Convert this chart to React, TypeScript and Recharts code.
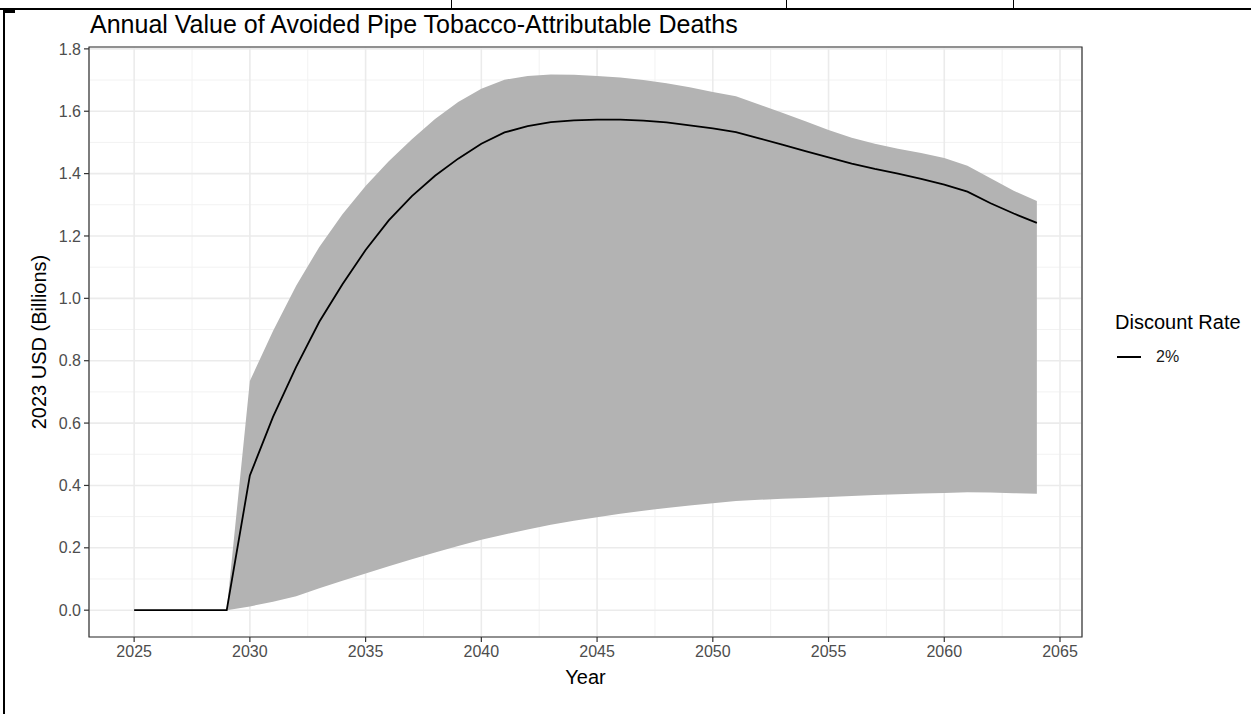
import React from 'react';
import { ComposedChart, Area, Line, XAxis, YAxis, CartesianGrid, ReferenceArea, Legend } from 'recharts';

const years = [
  2025, 2026, 2027, 2028, 2029, 2030, 2031, 2032, 2033, 2034,
  2035, 2036, 2037, 2038, 2039, 2040, 2041, 2042, 2043, 2044,
  2045, 2046, 2047, 2048, 2049, 2050, 2051, 2052, 2053, 2054,
  2055, 2056, 2057, 2058, 2059, 2060, 2061, 2062, 2063, 2064,
];

// central estimate, 2% discount rate (billions)
const central = [
  0, 0, 0, 0, 0, 0.432, 0.62, 0.78, 0.925, 1.045,
  1.155, 1.25, 1.328, 1.393, 1.448, 1.496, 1.532, 1.552, 1.565, 1.571,
  1.573, 1.573, 1.57, 1.564, 1.555, 1.545, 1.533, 1.513, 1.493, 1.472,
  1.452, 1.432, 1.415, 1.4, 1.383, 1.365, 1.342, 1.305, 1.272, 1.242,
];

// uncertainty band
const lower = [
  null, null, null, null, 0, 0.012, 0.027, 0.045, 0.07, 0.094,
  0.118, 0.141, 0.163, 0.185, 0.206, 0.226, 0.243, 0.259, 0.274, 0.287,
  0.298, 0.309, 0.319, 0.328, 0.336, 0.343, 0.35, 0.354, 0.357, 0.36,
  0.363, 0.366, 0.369, 0.372, 0.374, 0.376, 0.378, 0.377, 0.375, 0.373,
];
const upper = [
  null, null, null, null, 0, 0.735, 0.895, 1.04, 1.165, 1.27,
  1.36, 1.44, 1.51, 1.575, 1.63, 1.672, 1.701, 1.713, 1.718, 1.717,
  1.713, 1.708, 1.7, 1.69, 1.677, 1.662, 1.648, 1.622, 1.595, 1.568,
  1.54, 1.515, 1.496, 1.48, 1.466, 1.45, 1.425, 1.385, 1.345, 1.312,
];

const xTicks = [2025, 2030, 2035, 2040, 2045, 2050, 2055, 2060, 2065];
const xMinorTicks = [2027.5, 2032.5, 2037.5, 2042.5, 2047.5, 2052.5, 2057.5, 2062.5];
const yTicks = [0, 0.2, 0.4, 0.6, 0.8, 1.0, 1.2, 1.4, 1.6, 1.8];
const yMinorTicks = [0.1, 0.3, 0.5, 0.7, 0.9, 1.1, 1.3, 1.5, 1.7];

// ggplot style 5% expansion
const xDomain = [2023.05, 2065.95];
const yDomain = [-0.086, 1.806];

const data = years.map((year, i) => ({
  year,
  central: central[i],
  band: lower[i] == null || upper[i] == null ? null : [lower[i], upper[i]],
}));

const FONT = '"Liberation Sans", Arial, sans-serif';
const tickStyle = { fill: '#4D4D4D', fontSize: 16, fontFamily: FONT };

const renderLegend = (props: any) => {
  const items = (props.payload || []).filter((p: any) => p.dataKey === 'central');
  return (
    <div style={{ fontFamily: FONT, color: '#000', textAlign: 'left' }}>
      <div style={{ fontSize: 20, lineHeight: '24px' }}>Discount Rate</div>
      {items.map((it: any) => (
        <div key={it.value} style={{ display: 'flex', alignItems: 'center', marginTop: 11, height: 24 }}>
          <svg width={24} height={6} style={{ marginLeft: 2 }}>
            <line x1={0} x2={24} y1={3} y2={3} stroke={it.color} strokeWidth={2} />
          </svg>
          <span style={{ marginLeft: 15, fontSize: 16, color: '#1A1A1A' }}>{it.value}</span>
        </div>
      ))}
    </div>
  );
};

const App: React.FC = () => {
  return (
    <div style={{ position: 'absolute', left: 0, top: 0, width: 1251, height: 714, background: '#fff', fontFamily: FONT }}>
      {/* surrounding table borders from the source document */}
      <div style={{ position: 'absolute', left: 0, top: 8, width: 1251, height: 2, background: '#000' }} />
      <div style={{ position: 'absolute', left: 3, top: 8, width: 2, height: 706, background: '#000' }} />
      <div style={{ position: 'absolute', left: 5, top: 10, width: 10, height: 3, background: '#000' }} />
      <div style={{ position: 'absolute', left: 451, top: 0, width: 1, height: 9, background: '#000' }} />
      <div style={{ position: 'absolute', left: 786, top: 0, width: 1, height: 9, background: '#000' }} />
      <div style={{ position: 'absolute', left: 1013, top: 0, width: 1, height: 9, background: '#000' }} />

      <div style={{ position: 'absolute', left: 90, top: 12, fontSize: 25, lineHeight: 1, color: '#000', whiteSpace: 'nowrap' }}>
        Annual Value of Avoided Pipe Tobacco-Attributable Deaths
      </div>

      <ComposedChart
        width={1251}
        height={714}
        data={data}
        margin={{ top: 47, right: 169, bottom: 0, left: 0 }}
        style={{ position: 'absolute', left: 0, top: 0 }}
      >
        <XAxis xAxisId="minor" dataKey="year" type="number" domain={xDomain} ticks={xMinorTicks} allowDataOverflow hide />
        <YAxis yAxisId="minor" type="number" domain={yDomain} ticks={yMinorTicks} allowDataOverflow hide />
        <CartesianGrid xAxisId="minor" yAxisId="minor" stroke="#F2F2F2" strokeWidth={1} />
        <CartesianGrid stroke="#EBEBEB" strokeWidth={1.6} />
        <XAxis
          dataKey="year"
          type="number"
          domain={xDomain}
          ticks={xTicks}
          allowDataOverflow
          height={77}
          axisLine={false}
          tickLine={{ stroke: '#333333', strokeWidth: 1.2 }}
          tickSize={5}
          tickMargin={4}
          tick={tickStyle}
          label={{ value: 'Year', position: 'center', dy: 1, fontSize: 20, fill: '#000', fontFamily: FONT }}
        />
        <YAxis
          type="number"
          domain={yDomain}
          ticks={yTicks}
          allowDataOverflow
          width={89}
          axisLine={false}
          tickLine={{ stroke: '#333333', strokeWidth: 1.2 }}
          tickSize={5}
          tickMargin={3}
          tick={tickStyle}
          tickFormatter={(v: number) => v.toFixed(1)}
          label={{ value: '2023 USD (Billions)', angle: -90, position: 'center', dx: -6, fontSize: 20, fill: '#000', fontFamily: FONT }}
        />
        <Area
          type="linear"
          dataKey="band"
          stroke="none"
          fill="#B3B3B3"
          fillOpacity={1}
          legendType="none"
          isAnimationActive={false}
        />
        <Line
          type="linear"
          dataKey="central"
          name="2%"
          stroke="#000"
          strokeWidth={1.8}
          dot={false}
          activeDot={false}
          isAnimationActive={false}
        />
        <ReferenceArea
          x1={xDomain[0]}
          x2={xDomain[1]}
          y1={yDomain[0]}
          y2={yDomain[1]}
          fill="none"
          stroke="#333333"
          strokeWidth={1.2}
          ifOverflow="visible"
        />
        <Legend
          layout="horizontal"
          verticalAlign="middle"
          align="center"
          content={renderLegend}
          wrapperStyle={{ position: 'absolute', left: 1115, top: 310, width: 136, right: 'auto', bottom: 'auto' }}
        />
      </ComposedChart>
    </div>
  );
};

export default App;
